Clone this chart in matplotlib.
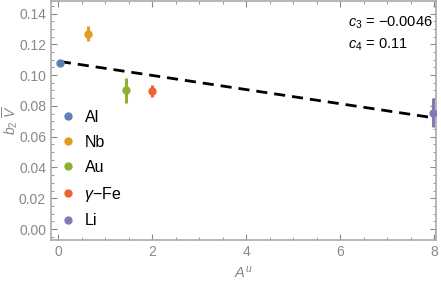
import matplotlib.pyplot as plt
from matplotlib.lines import Line2D
from matplotlib.ticker import MultipleLocator

plt.rcParams["font.family"] = ["Liberation Sans", "DejaVu Sans"]
plt.rcParams["mathtext.fontset"] = "custom"
plt.rcParams["mathtext.rm"] = "Liberation Sans"
plt.rcParams["mathtext.it"] = "Liberation Sans:italic"

# data
materials = ["Al", "Nb", "Au", r"$\gamma$$-$Fe", "Li"]
colors = ["#5E81B5", "#E19C24", "#8FB032", "#EB6235", "#8778B3"]
a_u = [0.04, 0.63, 1.45, 2.0, 7.98]
b2_v = [0.108, 0.127, 0.090, 0.0895, 0.0755]
b2_err = [0.0008, 0.005, 0.008, 0.004, 0.0095]
c3 = -0.0046
c4 = 0.109
fit_x = [0.04, 8.0]

grey = "#888888"

fig = plt.figure(figsize=(4.41, 2.85), dpi=100)
ax = fig.add_axes([0.1156, 0.158, 0.873, 0.84])

for x, y, e, c in zip(a_u, b2_v, b2_err, colors):
    ax.errorbar(x, y, yerr=e, fmt="o", color=c, ms=5, elinewidth=2.2, capsize=0, zorder=3)

ax.plot(fit_x, [c4 + c3 * x for x in fit_x], "k--", lw=2, dashes=(4, 2.5), zorder=2)

ax.set_xlim(-0.15, 8.04)
ax.set_ylim(-0.0071, 0.1484)
ax.xaxis.set_major_locator(MultipleLocator(2))
ax.xaxis.set_minor_locator(MultipleLocator(0.5))
ax.yaxis.set_major_locator(MultipleLocator(0.02))
ax.yaxis.set_minor_locator(MultipleLocator(0.005))
ax.yaxis.set_major_formatter(plt.FuncFormatter(lambda v, p: f"{v:.2f}"))
ax.tick_params(which="both", direction="in", top=True, right=True, color=grey,
               labelcolor=grey, labelsize=10)
ax.tick_params(which="major", length=4)
ax.tick_params(which="minor", length=2.5)
for s in ax.spines.values():
    s.set_color("#aaaaaa")
    s.set_linewidth(1.2)

ax.set_xlabel(r"$A^u$", color=grey, fontsize=10.5)
fig.text(0.022, 0.58, r"$b_2\ \overline{V}$", color=grey, fontsize=10, rotation=90,
         ha="center", va="center")

ax.text(0.771, 0.908, r"$c_3$ = $-$0.0046", transform=ax.transAxes, ha="left",
        va="center", fontsize=10.5)
ax.text(0.771, 0.816, r"$c_4$ = 0.11", transform=ax.transAxes, ha="left",
        va="center", fontsize=10.5)

handles = [Line2D([], [], ls="", marker="o", ms=5, color=c) for c in colors]
ax.legend(handles, materials, loc="lower left", bbox_to_anchor=(-0.025, -0.012),
          frameon=False, fontsize=11.5, handletextpad=0.3, labelspacing=0.62,
          handlelength=1.5)

fig.savefig("out.png", dpi=100)
